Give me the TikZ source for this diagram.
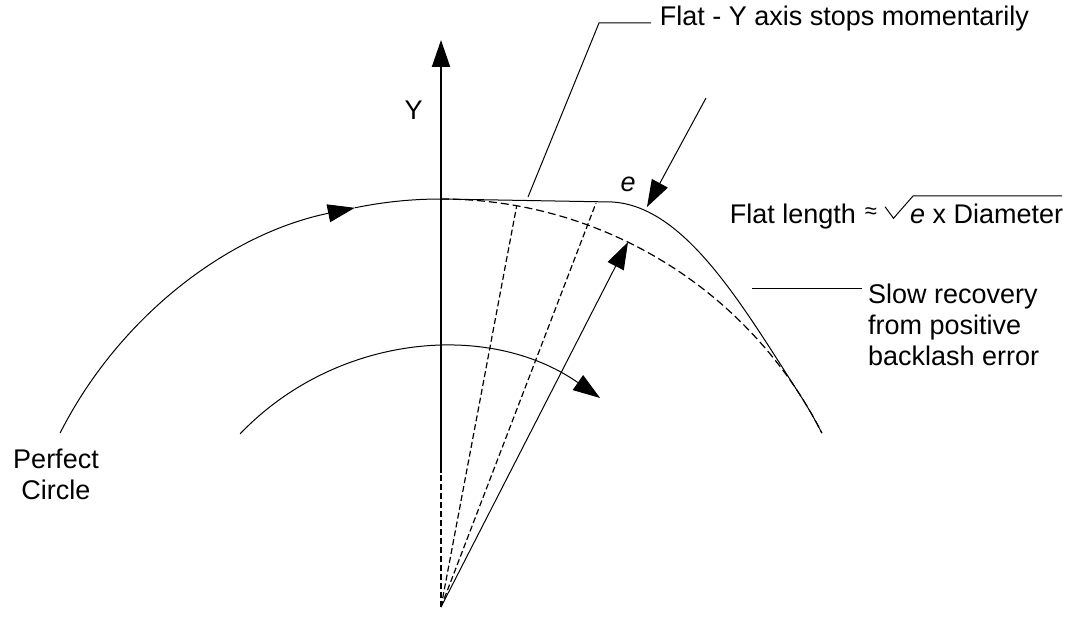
\documentclass[tikz,border=0pt]{standalone}
\usepackage{fontspec}
\setmainfont{Liberation Sans}
\usetikzlibrary{arrows.meta,calc}
\begin{document}
\begin{tikzpicture}[x=1pt,y=1pt,
  thinline/.style={line width=1pt},
  axisline/.style={line width=2pt},
  dashrad/.style={line width=1.2pt, dash pattern=on 6pt off 3pt},
  dashcirc/.style={line width=1.2pt, dash pattern=on 8pt off 4pt},
  arrowtip/.style={-{Triangle[length=27pt,width=18pt]}},
  lbl/.style={font=\fontsize{27}{31}\selectfont, inner sep=0pt},
  ]
\useasboundingbox (0,0) rectangle (1067,616);
% key points
\coordinate (C) at (441,-10);
\coordinate (P) at (441,9);
\coordinate (axB) at (441,143);
\coordinate (axT) at (441,576);
\coordinate (top) at (441,417);
\coordinate (f1) at (612,414);
\coordinate (m1) at (800,221);
% perfect circle (outer), left part with direction arrow
\draw[thinline, arrowtip] ($(C)+(153.13:427)$) coordinate (oL)
  arc[start angle=153.13, end angle=101.65, radius=427] coordinate (oA);
% actual path: circle, flat, slow recovery
\draw[thinline] (oA) arc[start angle=101.65, end angle=90, radius=427]
  -- (f1) .. controls (685,410) and (742.3,310.7) .. (m1)
  arc[start angle=32.76, end angle=26.87, radius=427] coordinate (oR);
% perfect circle continuation (dashed)
\draw[dashcirc] (top) arc[start angle=90, end angle=26.87, radius=427];
% inner arc with arrow
\draw[thinline, arrowtip] ($(C)+(136.3:278)$) coordinate (iL)
  arc[start angle=136.3, end angle=55.1, radius=278] coordinate (iR);
% Y axis
\draw[axisline, arrowtip] (axB) -- (axT);
\draw[dashrad] (P) -- (axB);
% radial lines
\coordinate (r1) at ($(C)+(79.79:427)$);
\coordinate (r2) at (596,413);
\coordinate (r3) at ($(C)+(64.03:427)$);
\draw[dashrad] (P) -- (r1);
\draw[dashrad] (P) -- (r2);
\draw[thinline, arrowtip] (P) -- (r3);
% e arrow
\coordinate (eS) at (706,518);
\coordinate (eT) at (647,409);
\draw[thinline, arrowtip] (eS) -- (eT);
% labels
\node[lbl, anchor=base] (ylab) at (413.7,496) {Y};
\node[lbl, anchor=base] (elab) at (628,424.3) {\itshape e};
\node[lbl, anchor=base west] (flat) at (659.6,590) {Flat - Y axis stops momentarily};
\coordinate (fa) at (528,419);
\coordinate (fb) at (599,593);
\coordinate (fc) at (651,593);
\draw[thinline] (fa) -- (fb) -- (fc);
\node[lbl, anchor=base west] (fl) at (729.6,392) {Flat length};
\node[inner sep=0pt, font=\fontsize{22}{26}\selectfont] (approx) at (871,403) {≈};
\coordinate (s1) at (885,409.3);
\coordinate (s2) at (893.5,397.7);
\coordinate (s3) at (913,420);
\coordinate (s4) at (1062,420);
\draw[thinline] (s1) -- (s2) -- (s3) -- (s4);
\node[lbl, anchor=base west] (ed) at (910,392) {\textit{e} x Diameter};
\node[lbl, anchor=north west, align=left] (slow) at (868,332.7) {Slow recovery\\from positive\\backlash error};
\coordinate (la) at (752,327);
\coordinate (lb) at (862,327);
\draw[thinline] (la) -- (lb);
\node[lbl, anchor=north, align=center] (pc) at (56,167.4) {Perfect\\Circle};
\end{tikzpicture}
\end{document}
